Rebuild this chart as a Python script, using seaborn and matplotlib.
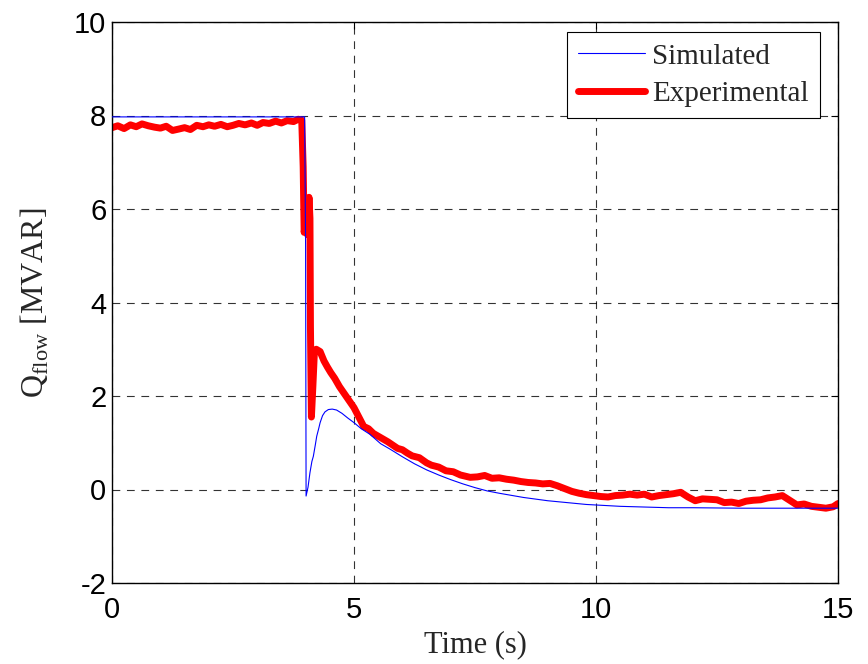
import pandas as pd
import seaborn as sns
import matplotlib.pyplot as plt

# 仿真曲线
sim_t = [0.0, 3.98, 4.0, 4.01, 4.05, 4.09, 4.13, 4.16, 4.2, 4.23, 4.27, 4.3, 4.35, 4.4,
         4.47, 4.55, 4.64, 4.75, 4.87, 5.0, 5.15, 5.33, 5.55, 5.75, 6.0, 6.25, 6.5,
         6.75, 7.0, 7.25, 7.5, 7.75, 8.0, 8.5, 9.0, 9.5, 9.8, 10.5, 11.5, 12.0, 13.0,
         14.0, 15.0]
sim_q = [7.97, 7.97, 5.2, -0.14, 0.05, 0.36, 0.6, 0.71, 0.95, 1.14, 1.3, 1.43, 1.58, 1.66,
         1.71, 1.72, 1.70, 1.63, 1.53, 1.43, 1.30, 1.18, 0.98, 0.86, 0.70, 0.55, 0.42,
         0.31, 0.21, 0.12, 0.04, -0.03, -0.08, -0.17, -0.24, -0.29, -0.32, -0.36, -0.39,
         -0.39, -0.40, -0.40, -0.40]

# 实测曲线
exp_t = [0.0, 0.12, 0.25, 0.38, 0.5, 0.62, 0.75, 0.88, 1.0, 1.12, 1.25, 1.38, 1.5, 1.62,
         1.75, 1.88, 2.0, 2.12, 2.25, 2.38, 2.5, 2.62, 2.75, 2.88, 3.0, 3.12, 3.25, 3.38,
         3.5, 3.62, 3.75, 3.85, 3.92, 3.95, 3.97, 4.0, 4.04, 4.07, 4.09, 4.1, 4.12, 4.15,
         4.18, 4.22, 4.3, 4.38, 4.45, 4.52, 4.6, 4.7, 4.8, 4.9, 5.0, 5.1, 5.2, 5.3, 5.4,
         5.5, 5.6, 5.7, 5.8, 5.9, 6.0, 6.1, 6.2, 6.35, 6.5, 6.6, 6.75, 6.9, 7.05, 7.2,
         7.4, 7.55, 7.7, 7.85, 8.0, 8.15, 8.3, 8.45, 8.6, 8.75, 8.9, 9.05, 9.2, 9.35,
         9.5, 9.65, 9.8, 9.95, 10.1, 10.25, 10.4, 10.55, 10.7, 10.85, 11.0, 11.15, 11.3,
         11.45, 11.6, 11.75, 11.9, 12.05, 12.2, 12.35, 12.5, 12.65, 12.8, 12.95, 13.1,
         13.25, 13.4, 13.55, 13.7, 13.85, 14.0, 14.15, 14.3, 14.45, 14.6, 14.75, 14.9,
         15.0]
exp_q = [7.74, 7.78, 7.72, 7.80, 7.76, 7.82, 7.78, 7.75, 7.73, 7.77, 7.68, 7.71, 7.74, 7.70,
         7.79, 7.76, 7.80, 7.77, 7.81, 7.76, 7.79, 7.83, 7.80, 7.84, 7.79, 7.85, 7.83, 7.88,
         7.84, 7.89, 7.87, 7.92, 7.90, 6.9, 5.5, 5.7, 5.45, 6.25, 5.8, 3.5, 1.55, 2.2,
         2.9, 3.0, 2.95, 2.75, 2.62, 2.5, 2.38, 2.2, 2.05, 1.9, 1.75, 1.55, 1.35, 1.3, 1.2,
         1.14, 1.08, 1.02, 0.95, 0.88, 0.85, 0.78, 0.72, 0.68, 0.57, 0.52, 0.48, 0.40,
         0.38, 0.31, 0.26, 0.27, 0.30, 0.24, 0.25, 0.22, 0.20, 0.17, 0.15, 0.14, 0.12,
         0.13, 0.08, 0.02, -0.04, -0.08, -0.11, -0.13, -0.15, -0.16, -0.13, -0.12, -0.10,
         -0.12, -0.10, -0.16, -0.13, -0.11, -0.09, -0.06, -0.16, -0.24, -0.20, -0.21,
         -0.22, -0.28, -0.27, -0.30, -0.25, -0.23, -0.22, -0.18, -0.16, -0.13, -0.23,
         -0.33, -0.31, -0.36, -0.38, -0.40, -0.37, -0.30]

x_ticks = [0, 5, 10, 15]
y_ticks = [-2, 0, 2, 4, 6, 8, 10]

sns.set_style("white")
plt.rcParams['font.family'] = ['Liberation Sans', 'DejaVu Sans']
plt.rcParams['mathtext.fontset'] = 'custom'
plt.rcParams['mathtext.rm'] = 'Liberation Serif'
plt.rcParams['axes.unicode_minus'] = False

fig = plt.figure(figsize=(8.68, 6.64), dpi=100)
ax = fig.add_axes([112 / 868, 1 - 583 / 664, 726 / 868, 561 / 664])

sim_df = pd.DataFrame({'t': sim_t, 'q': sim_q})
exp_df = pd.DataFrame({'t': exp_t, 'q': exp_q})

sns.lineplot(data=sim_df, x='t', y='q', ax=ax, color='#0000ff', linewidth=0.8,
             sort=False, estimator=None, label='Simulated', zorder=3)
sns.lineplot(data=exp_df, x='t', y='q', ax=ax, color='#ff0000', linewidth=5,
             sort=False, estimator=None, label='Experimental', zorder=2)

ax.set_xlim(0, 15)
ax.set_ylim(-2, 10)
ax.set_xticks(x_ticks)
ax.set_yticks(y_ticks)
ax.tick_params(direction='in', length=5, width=0.8, top=True, right=True,
               labelsize=21, colors='black')
ax.tick_params(axis='x', pad=9)
ax.tick_params(axis='y', pad=4)
ax.grid(True, color='black', linestyle=(0, (7, 6)), linewidth=0.8, alpha=0.8)
for s in ax.spines.values():
    s.set_color('black')
    s.set_linewidth(1)

ax.set_xlabel('Time (s)', family='Liberation Serif', fontsize=22, labelpad=5)
ax.set_ylabel(r'Q$_{\mathrm{flow}}$ [MVAR]', family='Liberation Serif', fontsize=23, labelpad=17)

leg = ax.legend(loc='upper right', bbox_to_anchor=(708 / 726, 551 / 561),
                borderaxespad=0, fontsize=21, frameon=True, fancybox=False,
                edgecolor='black', framealpha=1, handlelength=2.3, handletextpad=0.25,
                borderpad=0.38, labelspacing=0.38)
leg.get_frame().set_linewidth(0.8)
for t in leg.get_texts():
    t.set_family('Liberation Serif')

fig.savefig('out.png', dpi=100)
